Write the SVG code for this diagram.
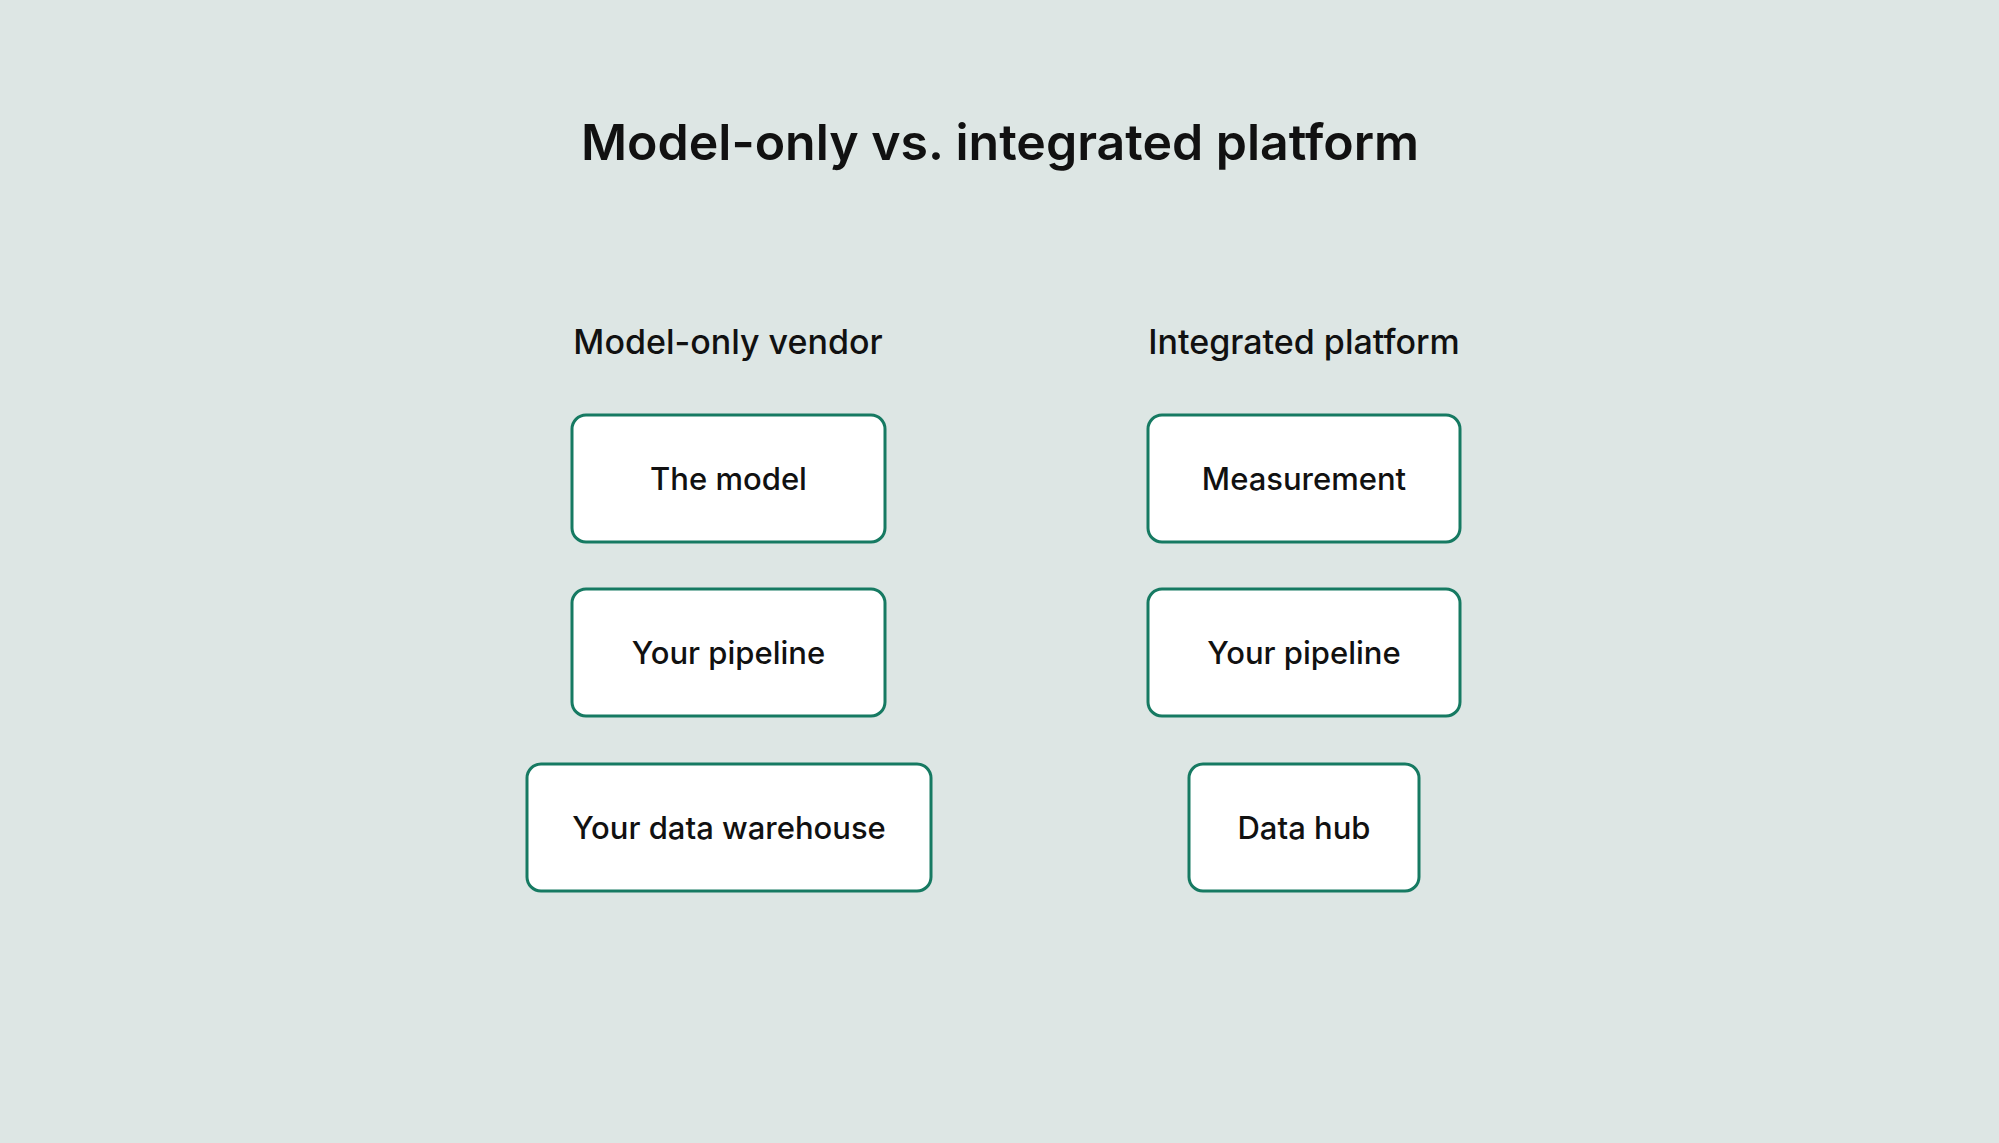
<svg xmlns="http://www.w3.org/2000/svg" width="1999" height="1143" viewBox="0 0 1999 1143">
<style>
.bx{fill:#fff;stroke:#167a62;stroke-width:3}
.t{font-family:Inter,"Liberation Sans",sans-serif;font-size:31px;font-weight:500;fill:#111;text-anchor:middle}
.h{font-family:Inter,"Liberation Sans",sans-serif;font-size:34px;font-weight:500;fill:#111;text-anchor:middle}
</style>
<rect width="1999" height="1143" fill="#dde6e4"/>
<text x="1000" y="160" font-family="Inter,'Liberation Sans',sans-serif" font-size="50" font-weight="600" fill="#111" text-anchor="middle">Model-only vs. integrated platform</text>
<text class="h" x="728" y="354">Model-only vendor</text>
<text class="h" x="1304" y="354">Integrated platform</text>
<g id="n1"><rect class="bx" x="572" y="415" width="313" height="127" rx="14"/><text class="t" x="728.5" y="490">The model</text></g>
<g id="n2"><rect class="bx" x="572" y="589" width="313" height="127" rx="14"/><text class="t" x="728.5" y="664">Your pipeline</text></g>
<g id="n3"><rect class="bx" x="527" y="764" width="404" height="127" rx="14"/><text class="t" x="729" y="839">Your data warehouse</text></g>
<g id="n4"><rect class="bx" x="1148" y="415" width="312" height="127" rx="14"/><text class="t" x="1304" y="490">Measurement</text></g>
<g id="n5"><rect class="bx" x="1148" y="589" width="312" height="127" rx="14"/><text class="t" x="1304" y="664">Your pipeline</text></g>
<g id="n6"><rect class="bx" x="1189" y="764" width="230" height="127" rx="14"/><text class="t" x="1304" y="839">Data hub</text></g>
<g id="connectors"/>
</svg>
